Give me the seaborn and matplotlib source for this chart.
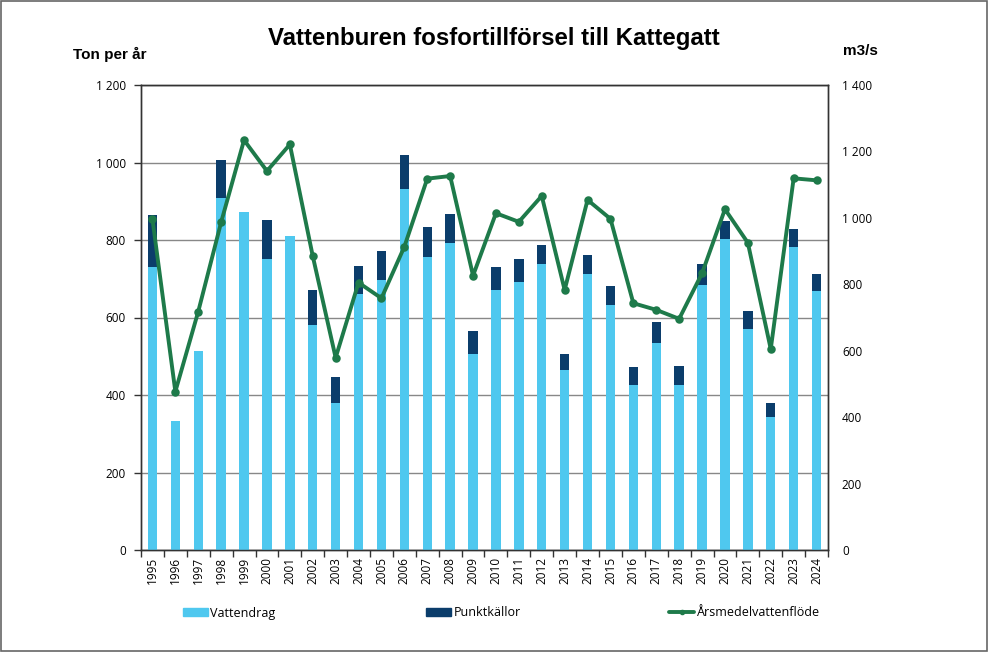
import seaborn as sns
import matplotlib.pyplot as plt
from matplotlib.lines import Line2D
from matplotlib.patches import Patch, Rectangle
from matplotlib.ticker import FuncFormatter, FixedLocator

years = [str(y) for y in range(1995, 2025)]
vattendrag = [730, 333, 513, 908, 872, 751, 810, 580, 379, 661,
              698, 932, 755, 792, 506, 671, 692, 739, 464, 713,
              633, 426, 534, 426, 685, 802, 571, 343, 782, 668]
punktkallor = [134, 0, 0, 98, 0, 100, 0, 91, 67, 73,
               74, 88, 78, 75, 60, 59, 58, 48, 43, 48,
               48, 46, 54, 49, 52, 48, 46, 37, 46, 43]
flode = [996, 477, 718, 987, 1234, 1141, 1221, 885, 579, 805,
         758, 913, 1118, 1126, 826, 1014, 988, 1066, 783, 1054,
         997, 743, 723, 696, 833, 1026, 925, 605, 1119, 1113]

total = [v + p for v, p in zip(vattendrag, punktkallor)]

light = '#4FC8EF'
dark = '#0B3D6B'
green = '#1E7A4A'

sns.set_style('white')
plt.rcParams['font.family'] = ['Open Sans', 'DejaVu Sans']
plt.rcParams['text.color'] = 'black'
plt.rcParams['xtick.color'] = 'black'
plt.rcParams['ytick.color'] = 'black'

fig = plt.figure(figsize=(9.89, 6.52), dpi=100)
ax = fig.add_axes([141 / 989, 1 - 550 / 652, (828 - 141) / 989, (550 - 85) / 652])

sns.barplot(x=years, y=total, color=dark, width=0.41, saturation=1, ax=ax,
            linewidth=0, zorder=2)
sns.barplot(x=years, y=vattendrag, color=light, width=0.41, saturation=1, ax=ax,
            linewidth=0, zorder=3)

ax.set_ylim(0, 1200)
ax.set_xlim(-0.5, len(years) - 0.5)
ax.set_yticks(range(0, 1201, 200))
fmt = FuncFormatter(lambda v, _: f'{int(v):,}'.replace(',', ' '))
ax.yaxis.set_major_formatter(fmt)
ax.yaxis.grid(True, color='#888888', lw=1)
ax.set_axisbelow(True)
ax.set_xlabel('')
ax.set_ylabel('')
ax.tick_params(axis='y', left=True, length=5, width=1, pad=6, labelsize=8.5, color='#333333')
ax.tick_params(axis='x', which='major', length=0, pad=5, labelsize=8.5, rotation=90)
ax.xaxis.set_minor_locator(FixedLocator([i - 0.5 for i in range(len(years) + 1)]))
ax.tick_params(axis='x', which='minor', bottom=True, length=5, width=1, color='#333333')
for s in ax.spines.values():
    s.set_color('#333333')
    s.set_linewidth(1)

ax2 = ax.twinx()
sns.pointplot(x=years, y=flode, color=green, ax=ax2, markers='o',
              linewidth=2.8, markersize=4)
ax2.set_ylim(0, 1400)
ax2.set_yticks(range(0, 1401, 200))
ax2.yaxis.set_major_formatter(fmt)
ax2.tick_params(axis='y', right=False, length=0, pad=10, labelsize=8.5)
ax2.set_xlim(-0.5, len(years) - 0.5)
ax2.set_ylabel('')
ax2.grid(False)
for s in ax2.spines.values():
    s.set_color('#333333')
    s.set_linewidth(1)

fig.text(494 / 989, 1 - 38 / 652, 'Vattenburen fosfortillförsel till Kattegatt',
         ha='center', va='center', fontsize=17.3, fontweight='bold', family='Liberation Sans')
fig.text(73 / 989, 1 - 54 / 652, 'Ton per år', ha='left', va='center',
         fontsize=11, fontweight='bold', family='Liberation Sans')
fig.text(843 / 989, 1 - 51 / 652, 'm3/s', ha='left', va='center',
         fontsize=11, fontweight='bold', family='Liberation Sans')

leg_items = [
    (Patch(color=light), 'Vattendrag', 183),
    (Patch(color=dark), 'Punktkällor', 426),
    (Line2D([], [], color=green, lw=2.8, marker='o', markersize=3), 'Årsmedelvattenflöde', 669),
]
for handle, label, xpx in leg_items:
    fig.legend([handle], [label], loc='center left', bbox_to_anchor=(xpx / 989, 1 - 613 / 652),
               frameon=False, fontsize=9, handlelength=2.0, handleheight=0.6,
               handletextpad=0.2, borderpad=0, borderaxespad=0)

fig.patches.append(Rectangle((0.001, 0.002), 0.997, 0.996, transform=fig.transFigure,
                             fill=False, edgecolor='#666666', lw=1.2))

fig.savefig('out.png', dpi=100)
